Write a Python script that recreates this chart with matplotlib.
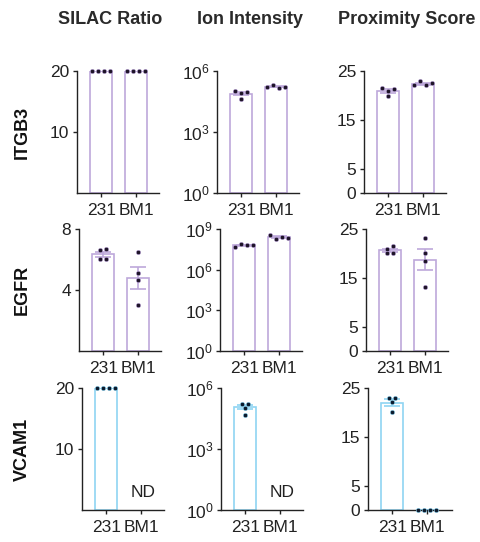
import numpy as np
import matplotlib
matplotlib.use('Agg')
import matplotlib.pyplot as plt
from matplotlib.transforms import blended_transform_factory

plt.rcParams['font.family'] = ['Liberation Sans', 'DejaVu Sans']
plt.rcParams['mathtext.fontset'] = 'custom'
plt.rcParams['mathtext.rm'] = 'Liberation Sans'
plt.rcParams['mathtext.it'] = 'Liberation Sans:italic'
plt.rcParams['mathtext.bf'] = 'Liberation Sans:bold'

groups = ['231', 'BM1']
genes = ['ITGB3', 'EGFR', 'VCAM1']
metrics = ['SILAC Ratio', 'Ion Intensity', 'Proximity Score']

# replicate values, listed left to right as they sit in the swarm
itgb3_silac_231 = [20, 20, 20, 20]
itgb3_silac_bm1 = [20, 20, 20, 20]
itgb3_ion_231 = [1.0e5, 7.9e4, 8.9e4, 4.0e4]
itgb3_ion_bm1 = [1.6e5, 2.0e5, 1.45e5, 1.6e5]
itgb3_prox_231 = [21.5, 20.9, 19.9, 21.3]
itgb3_prox_bm1 = [22.1, 22.9, 22.1, 22.5]

egfr_silac_231 = [6.6, 6.7, 6.0, 6.05]
egfr_silac_bm1 = [6.5, 5.1, 4.65, 3.0]
egfr_ion_231 = [4.7e7, 7.8e7, 6.6e7, 6.6e7]
egfr_ion_bm1 = [3.6e8, 1.8e8, 2.5e8, 2.1e8]
egfr_prox_231 = [20.9, 21.5, 20.1, 20.1]
egfr_prox_bm1 = [23.2, 20.1, 18.4, 13.1]

vcam1_silac_231 = [20, 20, 20, 20]
vcam1_silac_bm1 = []  # ND
vcam1_ion_231 = [1.65e5, 1.65e5, 1.05e5, 4.8e4]
vcam1_ion_bm1 = []  # ND
vcam1_prox_231 = [22.9, 22.9, 22.1, 20.1]
vcam1_prox_bm1 = [0, 0, 0, 0]

data = [
    [(itgb3_silac_231, itgb3_silac_bm1), (itgb3_ion_231, itgb3_ion_bm1), (itgb3_prox_231, itgb3_prox_bm1)],
    [(egfr_silac_231, egfr_silac_bm1), (egfr_ion_231, egfr_ion_bm1), (egfr_prox_231, egfr_prox_bm1)],
    [(vcam1_silac_231, vcam1_silac_bm1), (vcam1_ion_231, vcam1_ion_bm1), (vcam1_prox_231, vcam1_prox_bm1)],
]

purple = '#bda8da'
blue = '#8fd4f2'
row_colors = [purple, purple, blue]
dot_colors = ['#1e1428', '#1e1428', '#0c1a2c']

W, H = 480, 542
lefts = [[77, 217, 364], [79, 220, 366], [82, 221, 368]]
widths = [[82, 82, 82], [82, 82, 82], [82, 82, 84]]
tops = [71, 229, 388]
ax_h = 122


def swarm_x(ax, xc, vals, step=6.0, gap=3.5):
    """spread points that sit close together (in pixels) sideways, prism style"""
    pts = ax.transData.transform(np.column_stack([np.full(len(vals), xc), vals]))
    py = pts[:, 1]
    order = np.argsort(py, kind='stable')
    clusters = []
    for i in order:
        if clusters and py[i] - py[clusters[-1][-1]] < gap:
            clusters[-1].append(i)
        else:
            clusters.append([i])
    dx = np.zeros(len(vals))
    for c in clusters:
        c = sorted(c)
        n = len(c)
        for k, i in enumerate(c):
            dx[i] = (k - (n - 1) / 2) * step
    out = ax.transData.inverted().transform(np.column_stack([pts[:, 0] + dx, py]))
    return out[:, 0]


fig = plt.figure(figsize=(W / 100, H / 100), dpi=100)

for r in range(3):
    for c in range(3):
        l = lefts[r][c]
        w = widths[r][c]
        b = H - (tops[r] + ax_h)
        ax = fig.add_axes([l / W, b / H, w / W, ax_h / H])
        color = row_colors[r]
        log = (c == 1)

        ax.set_xlim(-0.69, 1.65 + (w - 82) / 35)
        if c == 0:
            if r == 1:
                ax.set_ylim(0, 8)
                ax.set_yticks([4, 8])
            else:
                ax.set_ylim(0, 20)
                ax.set_yticks([10, 20])
        elif c == 1:
            ax.set_yscale('log')
            top = 1e9 if r == 1 else 1e6
            ax.set_ylim(1, top)
            exps = [0, 3, 6, 9] if r == 1 else [0, 3, 6]
            ax.set_yticks([10.0 ** e for e in exps])
            ax.set_yticklabels([r'$\mathregular{10^{%d}}$' % e for e in exps])
            ax.minorticks_off()
        else:
            ax.set_ylim(0, 25)
            ax.set_yticks([0, 5, 15, 25])

        for xc, vals in zip([0, 1], data[r][c]):
            if len(vals) == 0:
                tr = blended_transform_factory(ax.transData, ax.transAxes)
                ax.text(xc + 0.05, 0.14, 'ND', transform=tr, ha='center', va='center',
                        fontsize=12.5, color='#222222')
                continue
            v = np.array(vals, dtype=float)
            m = v.mean()
            sem = v.std(ddof=1) / np.sqrt(len(v))
            base = 1 if log else 0
            ax.bar(xc, m - base, bottom=base, width=0.63, facecolor='white',
                   edgecolor=color, linewidth=1.2, zorder=2)
            if sem > 0:
                ax.errorbar(xc, m, yerr=sem, color=color, capsize=6, elinewidth=1.2,
                            capthick=1.2, zorder=3)
            xs = swarm_x(ax, xc, v)
            ax.scatter(xs, v, s=10, c=dot_colors[r], edgecolors=color, linewidths=0.4,
                       zorder=4, clip_on=False)

        ax.set_xticks([0, 1])
        ax.set_xticklabels(groups)
        for s in ['top', 'right']:
            ax.spines[s].set_visible(False)
        for s in ['left', 'bottom']:
            ax.spines[s].set_linewidth(1.0)
            ax.spines[s].set_color('#222222')
        ax.tick_params(direction='out', length=3, width=1.0, color='#222222',
                       labelsize=12.5, labelcolor='#222222', pad=2.5)
        ax.tick_params(axis='x', pad=4.5)

title_x = [110, 250, 407]
for c in range(3):
    fig.text(title_x[c] / W, 1 - 20 / H, metrics[c], ha='center', va='center',
             fontsize=13, fontweight='bold', color='#2a2a2a')

for r in range(3):
    yc = 1 - (tops[r] + ax_h / 2) / H
    fig.text(22 / W, yc, genes[r], rotation=90, ha='center', va='center',
             fontsize=13, fontweight='bold', color='#111111')

fig.savefig('out.png', dpi=100)
